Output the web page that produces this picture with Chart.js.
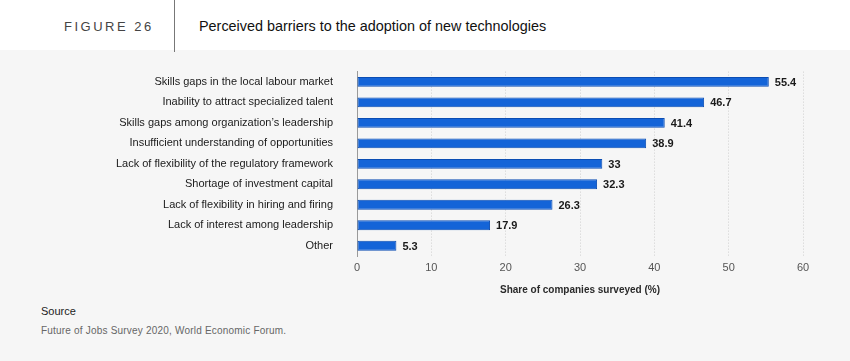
<!DOCTYPE html>
<html>
<head>
<meta charset="utf-8">
<script src="https://cdn.jsdelivr.net/npm/chart.js@4.4.1/dist/chart.umd.min.js"></script>
<style>
  html, body { margin: 0; padding: 0; }
  body {
    width: 850px; height: 361px; overflow: hidden;
    background: #f6f6f6; position: relative;
    font-family: "Liberation Sans", Arial, sans-serif;
  }
  .header {
    position: absolute; left: 0; top: 0; width: 850px; height: 50px;
    background: #ffffff;
  }
  .fig-no {
    position: absolute; left: 64px; top: 19px;
    font-size: 13px; letter-spacing: 2.5px; color: #444;
  }
  .divider {
    position: absolute; left: 174px; top: 0; width: 1px; height: 52px;
    background: #777;
  }
  .title {
    position: absolute; left: 199px; top: 18px;
    font-size: 14.4px; color: #111;
  }
  .chart-box {
    position: absolute; left: 0; top: 41px; width: 850px; height: 255px;
  }
  .chart-box canvas { display: block; }
  .src-head {
    position: absolute; left: 41px; top: 305px;
    font-size: 11px; color: #222;
  }
  .src-text {
    position: absolute; left: 41px; top: 325px;
    font-size: 10px; color: #666; letter-spacing: 0.2px;
  }
</style>
</head>
<body>
  <div class="header">
    <div class="fig-no">FIGURE 26</div>
    <div class="title">Perceived barriers to the adoption of new technologies</div>
  </div>
  <div class="divider"></div>
  <div class="chart-box"><canvas id="barriers-chart" width="850" height="255"></canvas></div>
  <div class="src-head">Source</div>
  <div class="src-text">Future of Jobs Survey 2020, World Economic Forum.</div>

<script>
(function () {
  const categories = [
    'Skills gaps in the local labour market',
    'Inability to attract specialized talent',
    'Skills gaps among organization\u2019s leadership',
    'Insufficient understanding of opportunities',
    'Lack of flexibility of the regulatory framework',
    'Shortage of investment capital',
    'Lack of flexibility in hiring and firing',
    'Lack of interest among leadership',
    'Other',
  ];
  const shares = [55.4, 46.7, 41.4, 38.9, 33, 32.3, 26.3, 17.9, 5.3];
  const xTicks = [0, 10, 20, 30, 40, 50, 60];

  const FONT = '"Liberation Sans", Arial, sans-serif';

  // value labels to the right of each bar
  const valueLabels = {
    id: 'valueLabels',
    afterDatasetsDraw(chart) {
      const ctx = chart.ctx;
      const meta = chart.getDatasetMeta(0);
      ctx.save();
      ctx.font = 'bold 11px ' + FONT;
      ctx.fillStyle = '#1a1a1a';
      ctx.textAlign = 'left';
      ctx.textBaseline = 'middle';
      meta.data.forEach((bar, i) => {
        ctx.fillText(String(shares[i]), bar.x + 6, bar.y + 1);
      });
      ctx.restore();
    },
  };

  const ctx = document.getElementById('barriers-chart');
  const chart = new Chart(ctx, {
    type: 'bar',
    data: {
      labels: categories,
      datasets: [{
        data: shares,
        backgroundColor: '#1464d8',
        borderColor: '#0b4db3',
        borderWidth: 1,
        borderSkipped: false,
        barPercentage: 0.48,
        categoryPercentage: 1,
      }],
    },
    options: {
      indexAxis: 'y',
      responsive: false,
      animation: false,
      events: [],
      layout: { padding: { top: 11, right: 47, bottom: 0, left: 0 } },
      plugins: {
        legend: { display: false },
        tooltip: { enabled: false },
      },
      scales: {
        x: {
          min: 0,
          max: 60,
          afterBuildTicks(scale) {
            scale.ticks = xTicks.map(v => ({ value: v }));
          },
          afterFit(scale) { scale.height = 40; },
          grid: {
            drawTicks: false,
            color: c => (c.index === 0 ? 'rgba(0,0,0,0)' : '#cfcfcf'),
            lineWidth: 1,
          },
          border: { display: false, dash: [1, 2] },
          ticks: {
            padding: 5,
            color: '#555',
            font: { family: FONT, size: 11 },
          },
          title: {
            display: true,
            text: 'Share of companies surveyed (%)',
            color: '#2a2a2a',
            font: { family: FONT, size: 10, weight: 'bold' },
            padding: 0,
          },
        },
        y: {
          afterFit(scale) { scale.width = 357; },
          grid: { display: false, drawTicks: false },
          border: { display: true, color: '#9a9a9a', width: 1 },
          ticks: {
            padding: 24,
            color: '#1a1a1a',
            font: { family: FONT, size: 11 },
          },
        },
      },
    },
    plugins: [valueLabels],
  });
  console.log(JSON.stringify(chart.chartArea));
})();
</script>
</body>
</html>
